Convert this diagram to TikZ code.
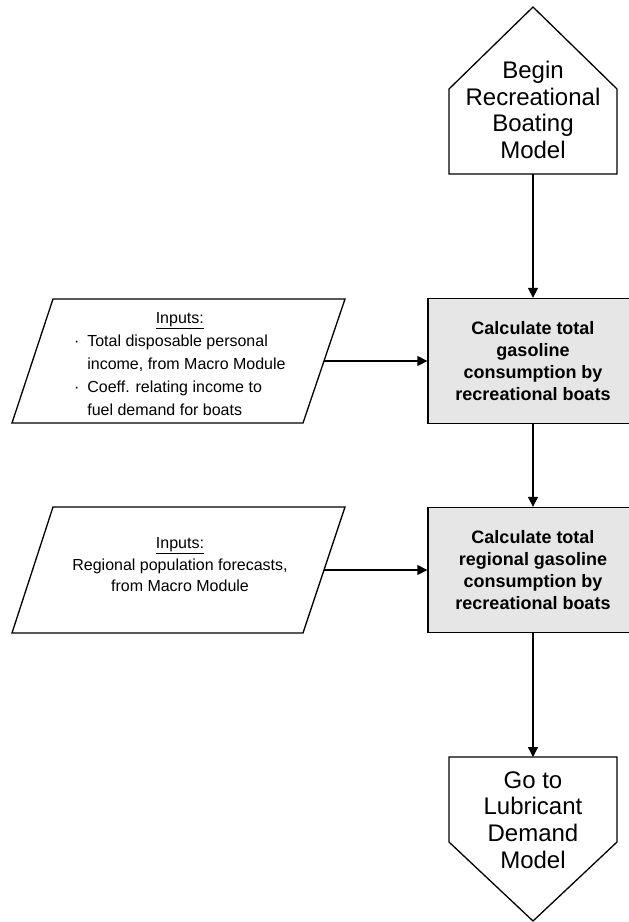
\documentclass[tikz,border=0pt]{standalone}
\usepackage{fontspec}
\setmainfont{Liberation Sans}
\usetikzlibrary{arrows.meta}
\definecolor{BoxGray}{RGB}{230,230,230}

\begin{document}
\begin{tikzpicture}[x=1pt,y=-1pt,
    flowline/.style={line width=1.3pt},
    flowarrow/.style={flowline,-{Triangle[length=10pt,width=10pt]}},
    procbox/.style={draw,flowline,fill=BoxGray,minimum width=210pt,minimum height=125pt,inner sep=0pt,align=center,font=\bfseries\fontsize{18}{22}\selectfont},
    termtext/.style={align=center,inner sep=0pt,font=\fontsize{24}{26.7}\selectfont},
    intext/.style={inner sep=0pt,font=\fontsize{16}{23}\selectfont}]
  \clip (0,0) rectangle (629,922);
  % start terminal
  \node[termtext] (begin) at (533,110) {Begin\\Recreational\\Boating\\Model};
  \draw[flowline] (449,174) -- (449,89) -- (533,7) -- (617,89) -- (617,174) -- cycle;
  \coordinate (beginout) at (533,174);
  % calculation steps
  \node[procbox] (calc1) at (533,361) {Calculate total\\gasoline\\consumption by\\recreational boats};
  \node[procbox] (calc2) at (533,570) {Calculate total\\regional gasoline\\consumption by\\recreational boats};
  % inputs
  \draw[flowline] (12,423) -- (53,299) -- (345,299) -- (303,423) -- cycle;
  \coordinate (in1out) at (324,361);
  \node[intext,anchor=west] (in1text) at (73.8,364.4) {\begin{tabular}{@{}l@{\hspace{8pt}}l@{}}
      \multicolumn{2}{c}{\underline{Inputs:}}\\
      · & Total disposable personal\\
        & income, from Macro Module\\
      · & Coeff. relating income to\\
        & fuel demand for boats
    \end{tabular}};
  \draw[flowline] (12,633) -- (53,507) -- (345,507) -- (303,633) -- cycle;
  \coordinate (in2out) at (324,570);
  \node[intext,align=center,font=\fontsize{16}{21.5}\selectfont] (in2text) at (180,565) {\underline{Inputs:}\\Regional population forecasts,\\from Macro Module};
  % end terminal
  \draw[flowline] (449,757) -- (617,757) -- (617,842) -- (533,921) -- (449,842) -- cycle;
  \coordinate (endin) at (533,757);
  \node[termtext] (finish) at (533,820) {Go to\\Lubricant\\Demand\\Model};
  % connectors
  \draw[flowarrow] (beginout) -- (calc1.north);
  \draw[flowarrow] (in1out) -- (calc1.west);
  \draw[flowarrow] (calc1.south) -- (calc2.north);
  \draw[flowarrow] (in2out) -- (calc2.west);
  \draw[flowarrow] (calc2.south) -- (endin);
\end{tikzpicture}
\end{document}
